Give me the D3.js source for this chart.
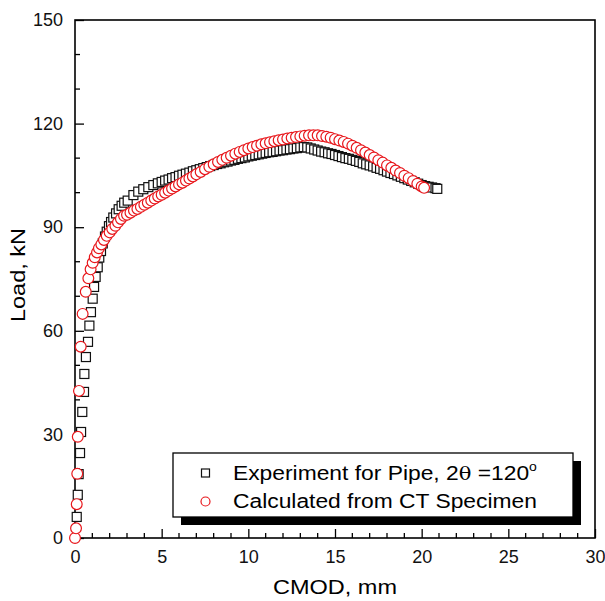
<!DOCTYPE html>
<html>
<head>
<meta charset="utf-8">
<script src="https://cdn.jsdelivr.net/npm/d3@7"></script>
<style>
  body { margin: 0; background: #fff; }
  text { font-family: Arial, "Liberation Sans", sans-serif; }
</style>
</head>
<body>
<div id="chart"></div>
<script>
// Experiment for Pipe (CMOD mm, Load kN)
const expX = [0.1, 0.16, 0.21, 0.29, 0.35, 0.42, 0.52, 0.54, 0.63, 0.75, 0.83, 0.92, 1.02, 1.10, 1.19, 1.31, 1.40, 1.50, 1.60, 1.73, 1.83, 1.96, 2.08, 2.21, 2.37, 2.52, 2.69, 2.84, 3.04, 3.37, 3.65, 3.94, 4.23, 4.52, 4.78,
  5.0, 5.2, 5.4, 5.6, 5.8, 6.0, 6.2, 6.4, 6.6, 6.8, 7.0, 7.2, 7.4, 7.6, 7.8, 8.0, 8.2, 8.4, 8.6, 8.8, 9.0, 9.2, 9.4, 9.6, 9.8,
  10.0, 10.2, 10.4, 10.6, 10.8, 11.0, 11.2, 11.4, 11.6, 11.8, 12.0, 12.2, 12.4, 12.6, 12.8, 13.0, 13.2, 13.4, 13.6, 13.8,
  14.0, 14.2, 14.4, 14.6, 14.8, 15.0, 15.2, 15.4, 15.6, 15.8, 16.0, 16.2, 16.4, 16.6, 16.8, 17.0, 17.2, 17.4, 17.6, 17.8,
  18.0, 18.2, 18.4, 18.6, 18.8, 19.0, 19.2, 19.4, 19.6, 19.8, 20.0, 20.2, 20.4, 20.6, 20.8, 20.9];
const expY = [6.1, 12.5, 18.5, 24.6, 30.7, 36.5, 42.3, 47.5, 52.4, 56.8, 61.5, 65.4, 69.3, 72.7, 75.6, 78.4, 81.2, 83.1, 85.3, 87.3, 88.7, 90.3, 91.5, 92.8, 94.0, 95.2, 96.2, 97.1, 97.7, 99.3, 100.3, 101.0, 101.6, 102.2, 102.7,
  103.1, 103.5, 103.8, 104.2, 104.5, 104.9, 105.2, 105.5, 105.8, 106.2, 106.5, 106.8, 107.1, 107.4, 107.7, 108.0, 108.3, 108.5, 108.8, 109.0, 109.3, 109.5, 109.8, 110.0, 110.2,
  110.5, 110.7, 110.9, 111.1, 111.3, 111.5, 111.7, 111.8, 112.0, 112.2, 112.3, 112.5, 112.6, 112.8, 112.9, 113.1, 113.2, 113.1, 112.8, 112.5,
  112.2, 111.9, 111.7, 111.4, 111.2, 110.9, 110.6, 110.3, 110.0, 109.8, 109.5, 109.2, 108.9, 108.5, 108.2, 107.9, 107.6, 107.2, 106.9, 106.5,
  106.1, 105.7, 105.4, 105.0, 104.6, 104.2, 103.8, 103.4, 103.0, 102.6, 102.2, 101.9, 101.7, 101.5, 101.3, 101.1];

// Calculated from CT Specimen
const calcX = [0, 0.06, 0.1, 0.13, 0.16, 0.23, 0.33, 0.44, 0.62, 0.77, 0.9, 1.02, 1.14, 1.27, 1.38, 1.52, 1.67, 1.83, 2.0, 2.15, 2.33, 2.48, 2.65, 2.83,
  3.0, 3.2, 3.4, 3.6, 3.8, 4.0, 4.2, 4.4, 4.6, 4.8, 5.0, 5.2, 5.4, 5.6, 5.8, 6.0, 6.2, 6.4, 6.6, 6.8, 7.0,
  7.25, 7.5, 7.75, 8.0, 8.25, 8.5, 8.75, 9.0, 9.25, 9.5, 9.75, 10.0, 10.25, 10.5, 10.75, 11.0, 11.25, 11.5, 11.75, 12.0,
  12.25, 12.5, 12.75, 13.0, 13.25, 13.5, 13.75, 14.0, 14.25, 14.5, 14.75, 15.0, 15.25, 15.5, 15.75, 16.0,
  16.25, 16.5, 16.75, 17.0, 17.25, 17.5, 17.75, 18.0, 18.25, 18.5, 18.75, 19.0, 19.25, 19.5, 19.75, 20.0, 20.14];
const calcY = [0, 2.8, 9.8, 18.6, 29.3, 42.6, 55.4, 64.9, 71.3, 75.2, 77.8, 79.7, 81.3, 82.7, 83.9, 85.0, 86.3, 87.5, 88.5, 89.5, 90.4, 91.4, 92.4, 93.3,
  93.6, 94.2, 94.8, 95.3, 95.9, 96.5, 97.1, 97.7, 98.3, 98.9, 99.4, 100.0, 100.6, 101.2, 101.8, 102.4, 102.9, 103.5, 104.1, 104.7, 105.3,
  106.0, 106.8, 107.5, 108.2, 108.9, 109.5, 110.1, 110.7, 111.3, 111.8, 112.3, 112.8, 113.2, 113.6, 114.0, 114.3, 114.6, 114.9, 115.2, 115.4,
  115.7, 115.9, 116.1, 116.3, 116.5, 116.6, 116.6, 116.6, 116.4, 116.2, 115.9, 115.5, 115.1, 114.7, 114.2, 113.6,
  113.0, 112.3, 111.6, 110.9, 110.2, 109.4, 108.7, 107.9, 107.2, 106.4, 105.7, 104.9, 104.2, 103.4, 102.6, 101.8, 101.4];

const xTicks = [0, 5, 10, 15, 20, 25, 30];
const yTicks = [0, 30, 60, 90, 120, 150];

// Layout
const W = 605, H = 601;
const margin = { top: 20, right: 10, bottom: 63, left: 75 };
const width = 595 - margin.left;
const height = 538 - margin.top;

const svg = d3.select('#chart')
    .append('svg')
    .attr('width', W)
    .attr('height', H);

const g = svg.append('g')
    .attr('transform', `translate(${margin.left}, ${margin.top})`);

const xScale = d3.scaleLinear().domain([0, 30]).range([0, width]);
const yScale = d3.scaleLinear().domain([0, 150]).range([height, 0]);

// Minor ticks (inward)
g.selectAll('.x-minor')
    .data(d3.range(0, 31, 1).filter(d => d % 5 !== 0))
    .enter().append('line')
    .attr('x1', d => xScale(d)).attr('x2', d => xScale(d))
    .attr('y1', height).attr('y2', height - 5)
    .attr('stroke', '#000').attr('stroke-width', 1.3);
g.selectAll('.y-minor')
    .data(d3.range(0, 151, 10).filter(d => d % 30 !== 0))
    .enter().append('line')
    .attr('y1', d => yScale(d)).attr('y2', d => yScale(d))
    .attr('x1', 0).attr('x2', 5)
    .attr('stroke', '#000').attr('stroke-width', 1.3);

// Axes with inward major ticks
const xAxis = d3.axisBottom(xScale).tickValues(xTicks).tickSizeInner(-9).tickSizeOuter(0).tickPadding(12);
const yAxis = d3.axisLeft(yScale).tickValues(yTicks).tickSizeInner(-9).tickSizeOuter(0).tickPadding(12);

const gx = g.append('g').attr('transform', `translate(0, ${height})`).call(xAxis);
const gy = g.append('g').call(yAxis);
[gx, gy].forEach(a => {
    a.select('.domain').remove();
    a.selectAll('line').attr('stroke', '#000').attr('stroke-width', 1.3);
    a.selectAll('text').style('font-size', '18px').attr('fill', '#111');
});

// Frame
g.append('rect')
    .attr('x', 0).attr('y', 0)
    .attr('width', width).attr('height', height)
    .attr('fill', 'none')
    .attr('stroke', '#000')
    .attr('stroke-width', 1.6);

// Experiment squares
const expData = expX.map((x, i) => [x, expY[i]]);
g.selectAll('.sq')
    .data(expData)
    .enter().append('rect')
    .attr('class', 'sq')
    .attr('x', d => xScale(d[0]) - 4.5)
    .attr('y', d => yScale(d[1]) - 4.5)
    .attr('width', 9).attr('height', 9)
    .attr('fill', '#fff')
    .attr('stroke', '#111')
    .attr('stroke-width', 1.2);

// Calculated circles
const calcData = calcX.map((x, i) => [x, calcY[i]]);
g.selectAll('.ci')
    .data(calcData)
    .enter().append('circle')
    .attr('class', 'ci')
    .attr('cx', d => xScale(d[0]))
    .attr('cy', d => yScale(d[1]))
    .attr('r', 5.4)
    .attr('fill', '#fff')
    .attr('stroke', '#e8161b')
    .attr('stroke-width', 1.2);

// Axis titles
svg.append('text')
    .attr('transform', `translate(${margin.left + width / 2}, 594) scale(1.12, 1)`)
    .attr('text-anchor', 'middle')
    .style('font-size', '21px')
    .text('CMOD, mm');

svg.append('text')
    .attr('transform', `translate(25, ${margin.top + height / 2 - 4}) rotate(-90) scale(1.12, 1)`)
    .attr('text-anchor', 'middle')
    .style('font-size', '21px')
    .text('Load, kN');

// Legend
const legend = svg.append('g');
legend.append('rect')
    .attr('x', 181).attr('y', 461)
    .attr('width', 400).attr('height', 64)
    .attr('fill', '#000');
legend.append('rect')
    .attr('x', 173).attr('y', 453)
    .attr('width', 400).attr('height', 64)
    .attr('fill', '#fff')
    .attr('stroke', '#000')
    .attr('stroke-width', 1.3);

legend.append('rect')
    .attr('x', 201.5).attr('y', 469)
    .attr('width', 8).attr('height', 8)
    .attr('fill', '#fff').attr('stroke', '#111').attr('stroke-width', 1.2);
legend.append('circle')
    .attr('cx', 205.5).attr('cy', 501.5).attr('r', 4.5)
    .attr('fill', '#fff').attr('stroke', '#e8161b').attr('stroke-width', 1.2);

const t1 = legend.append('text')
    .attr('transform', 'translate(233, 480) scale(1.17, 1)')
    .style('font-size', '19.5px');
t1.append('tspan').text('Experiment for Pipe, 2');
t1.append('tspan').style('font-family', '"DejaVu Serif", serif').style('font-size', '18px').text('θ');
t1.append('tspan').text(' =120');
t1.append('tspan').attr('dy', -9).style('font-size', '12px').text('o');

legend.append('text')
    .attr('transform', 'translate(233, 508) scale(1.17, 1)')
    .style('font-size', '19.5px')
    .text('Calculated from CT Specimen');
</script>
</body>
</html>
